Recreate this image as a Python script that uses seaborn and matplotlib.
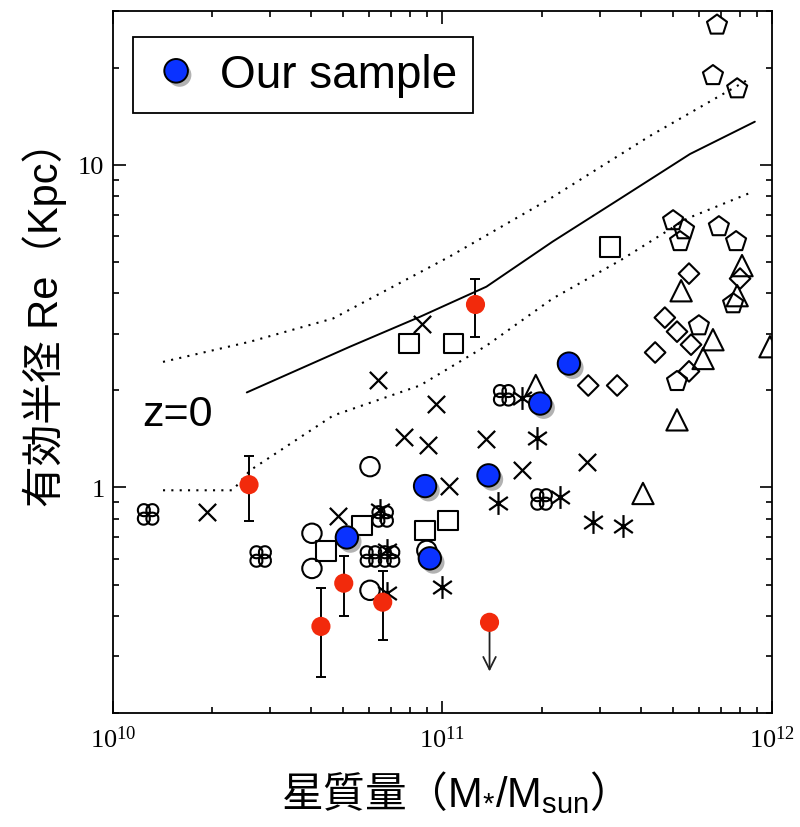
import numpy as np
import pandas as pd
import matplotlib
matplotlib.use("Agg")
import matplotlib.pyplot as plt
import matplotlib.patheffects as pe
from matplotlib.path import Path
from matplotlib.lines import Line2D
from matplotlib.ticker import FixedLocator, NullFormatter, LogLocator
import seaborn as sns

# ---------------- data ----------------
# z=0 size-mass relation (median and scatter)
rel_mass = [2.55e10, 5.24e10, 8.55e10, 1.36e11, 2.16e11, 3.46e11, 5.64e11, 8.87e11]
rel_re = [1.97, 2.73, 3.38, 4.19, 5.78, 7.85, 10.8, 13.6]
hi_mass = [1.42e10, 2.61e10, 4.66e10, 1.05e11, 2.12e11, 4.27e11, 8.57e11]
hi_re = [2.45, 2.83, 3.34, 5.19, 7.85, 12.3, 18.5]
lo_mass = [1.42e10, 2.31e10, 2.61e10, 4.66e10, 8.55e10, 1.36e11, 2.16e11, 3.46e11, 5.52e11, 8.75e11]
lo_re = [0.98, 0.98, 1.13, 1.67, 2.07, 2.75, 3.85, 5.05, 6.81, 8.25]

# our sample
our_mass = [5.13e10, 8.86e10, 9.16e10, 1.38e11, 1.98e11, 2.42e11]
our_re = [0.70, 1.01, 0.603, 1.09, 1.82, 2.42]

# measurements with error bars
red_mass = [2.59e10, 4.28e10, 5.02e10, 6.59e10, 1.26e11]
red_re = [1.02, 0.371, 0.505, 0.441, 3.69]
red_lo = [0.785, 0.258, 0.399, 0.336, 2.93]
red_hi = [1.256, 0.487, 0.611, 0.549, 4.44]
# upper limit
lim_mass = [1.39e11]
lim_re = [0.382]
lim_end = [0.269]

# literature samples
cross_mass = [1.93e10, 4.82e10, 6.37e10, 8.67e10, 9.55e10, 7.64e10, 9.04e10, 1.36e11, 2.75e11, 1.74e11, 1.05e11]
cross_re = [0.837, 0.813, 2.16, 3.22, 1.81, 1.43, 1.35, 1.41, 1.20, 1.13, 1.01]

square_mass = [5.70e10, 4.43e10, 8.85e10, 1.04e11, 7.91e10, 1.08e11, 3.22e11]
square_re = [0.763, 0.634, 0.736, 0.790, 2.79, 2.79, 5.57]

circle_mass = [4.02e10, 4.02e10, 6.03e10, 6.03e10, 8.97e10]
circle_re = [0.721, 0.561, 0.480, 1.16, 0.638]

clover_mass = [1.28e10, 2.81e10, 6.07e10, 6.59e10, 6.89e10, 1.54e11, 2.00e11]
clover_re = [0.825, 0.611, 0.611, 0.813, 0.611, 1.93, 0.918]

aster_mass = [6.46e10, 6.79e10, 6.79e10, 1.00e11, 1.47e11, 2.27e11, 2.86e11, 3.53e11, 1.74e11, 1.94e11]
aster_re = [0.849, 0.638, 0.470, 0.490, 0.892, 0.931, 0.779, 0.757, 1.89, 1.42]

tri_mass = [1.92e11, 4.06e11, 5.30e11, 8.11e11, 7.84e11, 6.62e11, 6.18e11, 5.15e11, 9.86e11]
tri_re = [2.07, 0.958, 4.07, 4.87, 3.93, 2.87, 2.51, 1.62, 2.73]

dia_mass = [2.77e11, 3.39e11, 4.42e11, 4.73e11, 5.15e11, 5.68e11, 5.60e11, 5.60e11, 8.00e11]
dia_re = [2.07, 2.07, 2.62, 3.36, 3.04, 2.77, 2.29, 4.60, 4.44]

pent_mass = [6.81e11, 6.62e11, 7.84e11, 5.01e11, 5.41e11, 5.26e11, 6.90e11, 7.78e11, 6.00e11, 5.15e11, 7.62e11]
pent_re = [27.1, 18.9, 17.2, 6.71, 6.29, 5.78, 6.43, 5.78, 3.17, 2.13, 3.71]

xtick_vals = [1e10, 1e11, 1e12]
xtick_text = [r"$\mathrm{10^{10}}$", r"$\mathrm{10^{11}}$", r"$\mathrm{10^{12}}$"]
ytick_vals = [1, 10]
ytick_text = ["1", "10"]

# ---------------- style ----------------
sns.set_style("ticks")
plt.rcParams["font.family"] = ["Liberation Sans", "Noto Sans CJK JP", "DejaVu Sans"]
plt.rcParams["mathtext.fontset"] = "custom"
plt.rcParams["mathtext.rm"] = "Liberation Serif"
plt.rcParams["mathtext.sf"] = "Liberation Sans"
plt.rcParams["mathtext.it"] = "Liberation Sans:italic"
for key in ["text.color", "axes.labelcolor", "xtick.color", "ytick.color", "axes.edgecolor"]:
    plt.rcParams[key] = "black"

fig = plt.figure(figsize=(8, 8.28), dpi=100)
ax = fig.add_axes([0.141, 0.1377, 0.824, 0.848])
ax.set_xscale("log")
ax.set_yscale("log")
ax.set_xlim(1e10, 1e12)
ax.set_ylim(0.2, 30)

# custom marker shapes
def clover_path():
    verts, codes = [], []
    t = np.linspace(0, 2 * np.pi, 25)
    for cx, cy in [(-0.19, 0.19), (0.19, 0.19), (-0.19, -0.19), (0.19, -0.19)]:
        xs = cx + 0.27 * np.cos(t)
        ys = cy + 0.27 * np.sin(t)
        for i, (a, b) in enumerate(zip(xs, ys)):
            verts.append((a, b))
            codes.append(Path.MOVETO if i == 0 else Path.LINETO)
    return Path(verts, codes)


def aster_path():
    verts, codes = [], []
    for ang in [90, 35, 145]:
        r = np.deg2rad(ang)
        verts += [(-np.cos(r), -np.sin(r)), (np.cos(r), np.sin(r))]
        codes += [Path.MOVETO, Path.LINETO]
    verts += [(-0.2, 0), (0.2, 0)]
    codes += [Path.MOVETO, Path.LINETO]
    return Path(verts, codes)


CLOVER = clover_path()
ASTER = aster_path()

# relation lines
line_kw = dict(ax=ax, color="black", estimator=None, sort=False, legend=False, zorder=2)
sns.lineplot(x=rel_mass, y=rel_re, linewidth=1.4, **line_kw)
sns.lineplot(x=hi_mass, y=hi_re, linewidth=1.5, linestyle=(0, (1, 3)), **line_kw)
sns.lineplot(x=lo_mass, y=lo_re, linewidth=1.5, linestyle=(0, (1, 3)), **line_kw)

ax.text(1.23e10, 1.556, "z=0", fontsize=31, family="Liberation Sans", va="baseline", ha="left")

# literature samples (open symbols)
open_kw = dict(ax=ax, facecolor="none", edgecolor="black", linewidth=1.5, legend=False, zorder=3)
sns.scatterplot(x=square_mass, y=square_re, marker="s", s=200, **open_kw)
sns.scatterplot(x=circle_mass, y=circle_re, marker="o", s=195, **open_kw)
sns.scatterplot(x=dia_mass, y=dia_re, marker="D", s=110, **open_kw)
sns.scatterplot(x=tri_mass, y=tri_re, marker="^", s=235, **open_kw)
sns.scatterplot(x=pent_mass, y=pent_re, marker="p", s=230, **open_kw)
sns.scatterplot(x=cross_mass, y=cross_re, marker="x", s=155, color="black", linewidth=1.6,
                ax=ax, legend=False, zorder=3)
sns.scatterplot(x=clover_mass, y=clover_re, marker=CLOVER, s=220, **open_kw)
sns.scatterplot(x=aster_mass, y=aster_re, marker=ASTER, s=270, color="black", edgecolor="black",
                linewidth=1.6, ax=ax, legend=False, zorder=3)

# red measurements with error bars
red_re_a = np.array(red_re)
yerr = [red_re_a - np.array(red_lo), np.array(red_hi) - red_re_a]
ax.errorbar(red_mass, red_re, yerr=yerr, fmt="none", ecolor="black", elinewidth=1.4,
            capsize=3.5, capthick=1.4, zorder=4)
sns.scatterplot(x=red_mass + lim_mass, y=red_re + lim_re, color="#f22a0c", edgecolor="none",
                s=190, ax=ax, legend=False, zorder=5)
for m, r0, r1 in zip(lim_mass, lim_re, lim_end):
    ax.annotate("", xy=(m, r1), xytext=(m, r0),
                arrowprops=dict(arrowstyle="->,head_length=0.9,head_width=0.45",
                                color="#222222", lw=1.3, shrinkA=0, shrinkB=0), zorder=4)

# our sample
blue = "#0a32ff"
shadow = [pe.SimplePatchShadow(offset=(2.5, -3), shadow_rgbFace="#555555", alpha=0.45), pe.Normal()]
our = sns.scatterplot(x=our_mass, y=our_re, color=blue, edgecolor="black", linewidth=1.4,
                      s=260, ax=ax, legend=False, zorder=6)
our.collections[-1].set_path_effects(shadow)

# axes, ticks
ax.xaxis.set_major_locator(FixedLocator(xtick_vals))
ax.set_xticklabels(xtick_text)
ax.xaxis.set_minor_locator(LogLocator(base=10, subs=np.arange(2, 10)))
ax.xaxis.set_minor_formatter(NullFormatter())
ax.yaxis.set_major_locator(FixedLocator(ytick_vals))
ax.set_yticklabels(ytick_text)
ax.yaxis.set_minor_locator(LogLocator(base=10, subs=np.arange(2, 10)))
ax.yaxis.set_minor_formatter(NullFormatter())

ax.tick_params(which="both", direction="in", top=True, right=True, color="black",
               labelcolor="black", width=1.2)
ax.tick_params(which="major", length=9)
ax.tick_params(which="minor", length=4.5)
ax.tick_params(axis="x", which="major", labelsize=19, pad=9, labelfontfamily="Liberation Serif")
ax.tick_params(axis="y", which="major", labelsize=19, pad=6, labelfontfamily="Liberation Serif")
for sp in ax.spines.values():
    sp.set_linewidth(1.3)
    sp.set_color("black")

ax.set_xlabel("星質量（$\\mathsf{M_{*}/M_{sun}}$）", fontsize=30, family="Noto Sans CJK JP")
ax.set_ylabel("有効半径 Re（Kpc）", fontsize=30)
ax.xaxis.set_label_coords(0.5, -0.078)
ax.yaxis.set_label_coords(-0.07, 0.57)

# legend
handle = Line2D([], [], marker="o", linestyle="none", markerfacecolor=blue,
                markeredgecolor="black", markeredgewidth=1.4, markersize=17,
                path_effects=shadow)
leg = ax.legend([handle], ["Our sample"], loc="upper left", bbox_to_anchor=(0.03, 0.963),
                borderaxespad=0, prop={"family": "Liberation Sans", "size": 33},
                frameon=True, fancybox=False, framealpha=1, edgecolor="black",
                handletextpad=0.35, borderpad=0.35, handlelength=1.2)
leg.get_frame().set_linewidth(1.3)

fig.savefig("out.png", dpi=100)
